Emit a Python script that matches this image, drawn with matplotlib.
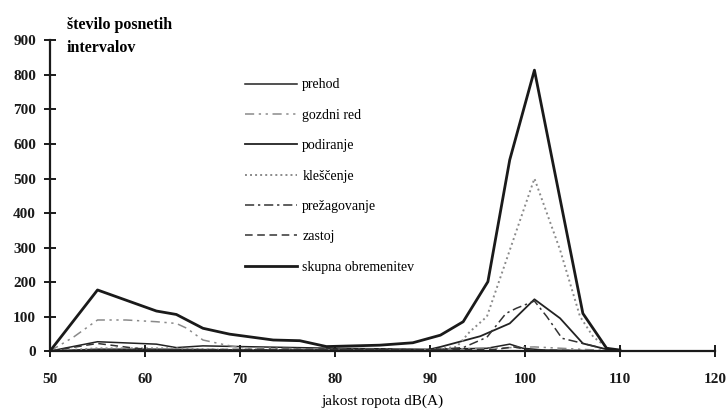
import matplotlib
matplotlib.use('Agg')
import matplotlib.pyplot as plt

plt.rcParams['font.family'] = ['Liberation Serif', 'DejaVu Serif']

#%% podatki - stevilo intervalov po jakosti ropota

prehod_x = [50, 55, 61.2, 63.3, 66.1, 70, 80, 90, 96, 98.4, 99.8, 102, 110]
prehod_y = [0, 27, 20, 10, 15, 13, 8, 5, 8, 20, 8, 3, 0]

gozdni_x = [50, 52.5, 55, 58, 61.2, 63.3, 64.4, 66.1, 68.6, 70, 80, 90, 96, 101, 106, 110]
gozdni_y = [0, 41, 90, 90, 85, 80, 66, 32, 17, 10, 5, 5, 8, 12, 5, 0]

podiranje_x = [50, 55, 61.2, 70, 80, 89.7, 91.1, 95.3, 98.4, 101, 103.7, 106.1, 108.6, 110]
podiranje_y = [0, 5, 5, 3, 3, 3, 12, 43, 80, 150, 95, 22, 5, 0]

klescenje_x = [50, 55, 63.3, 66, 70, 80, 90, 92.8, 94.2, 96, 101, 103.7, 105.8, 107.2, 108.9, 110]
klescenje_y = [0, 8, 8, 5, 3, 2, 3, 12, 56, 100, 500, 293, 100, 41, 5, 0]

prezag_x = [50, 55, 70, 80, 90, 93.5, 96, 98, 99.1, 101, 102.3, 103.9, 105.4, 108.6, 110]
prezag_y = [0, 3, 3, 2, 3, 10, 40, 109, 124, 145, 100, 37, 27, 5, 0]

zastoj_x = [50, 55, 59, 61.2, 70, 80, 90, 97, 98.8, 100.5, 110]
zastoj_y = [0, 22, 8, 3, 5, 5, 3, 5, 12, 3, 0]

skupna_x = [50, 55, 61.2, 63.3, 66.1, 68.9, 73.5, 76.3, 79.1, 84.7, 88.2, 91.1, 93.5, 96.1, 98.4, 101, 106.1, 108.6, 110]
skupna_y = [0, 177, 116, 106, 66, 49, 32, 30, 13, 17, 24, 46, 85, 201, 554, 814, 109, 8, 3]

x_ticks = list(range(50, 121, 10))
y_ticks = list(range(0, 901, 100))

#%% risanje

fig = plt.figure(figsize=(7.28, 4.13), dpi=100)
ax = fig.add_axes([0.0687, 0.150, 0.9133, 0.752])

ax.plot(prehod_x, prehod_y, color='#222222', lw=1.1, label='prehod')
ax.plot(gozdni_x, gozdni_y, color='#8a8a8a', lw=1.1, dashes=(6, 3, 1.5, 3, 1.5, 3), label='gozdni red')
ax.plot(podiranje_x, podiranje_y, color='#222222', lw=1.3, label='podiranje')
ax.plot(klescenje_x, klescenje_y, color='#8a8a8a', lw=1.4, dashes=(1, 1.6), label='klešč' + 'enje')
ax.plot(prezag_x, prezag_y, color='#333333', lw=1.1, dashes=(6, 2.5, 1.5, 2.5), label='prežagovanje')
ax.plot(zastoj_x, zastoj_y, color='#333333', lw=1.1, dashes=(5, 3), label='zastoj')
ax.plot(skupna_x, skupna_y, color='#1a1a1a', lw=2.0, label='skupna obremenitev')

ax.set_xlim(50, 120)
ax.set_ylim(0, 900)
ax.set_xticks(x_ticks)
ax.set_yticks(y_ticks)

for s in ['top', 'right']:
    ax.spines[s].set_visible(False)
for s in ['left', 'bottom']:
    ax.spines[s].set_linewidth(1.6)
    ax.spines[s].set_color('#1a1a1a')

ax.tick_params(direction='inout', length=8, width=1.4, colors='#1a1a1a', labelsize=11, pad=6)
ax.tick_params(axis='x', pad=12)
for lab in ax.get_xticklabels() + ax.get_yticklabels():
    lab.set_fontweight('bold')

ax.set_xlabel('jakost ropota dB(A)', fontsize=11, labelpad=6)
fig.text(0.092, 0.93, 'število posnetih', fontsize=11.5, fontweight='bold')
fig.text(0.092, 0.875, 'intervalov', fontsize=11.5, fontweight='bold')

ax.legend(loc='upper left', bbox_to_anchor=(0.337, 0.81), bbox_transform=fig.transFigure,
          frameon=False, fontsize=10, handlelength=3.7, handletextpad=0.4,
          labelspacing=1.25, borderpad=0, borderaxespad=0)

fig.savefig('out.png', dpi=100)
